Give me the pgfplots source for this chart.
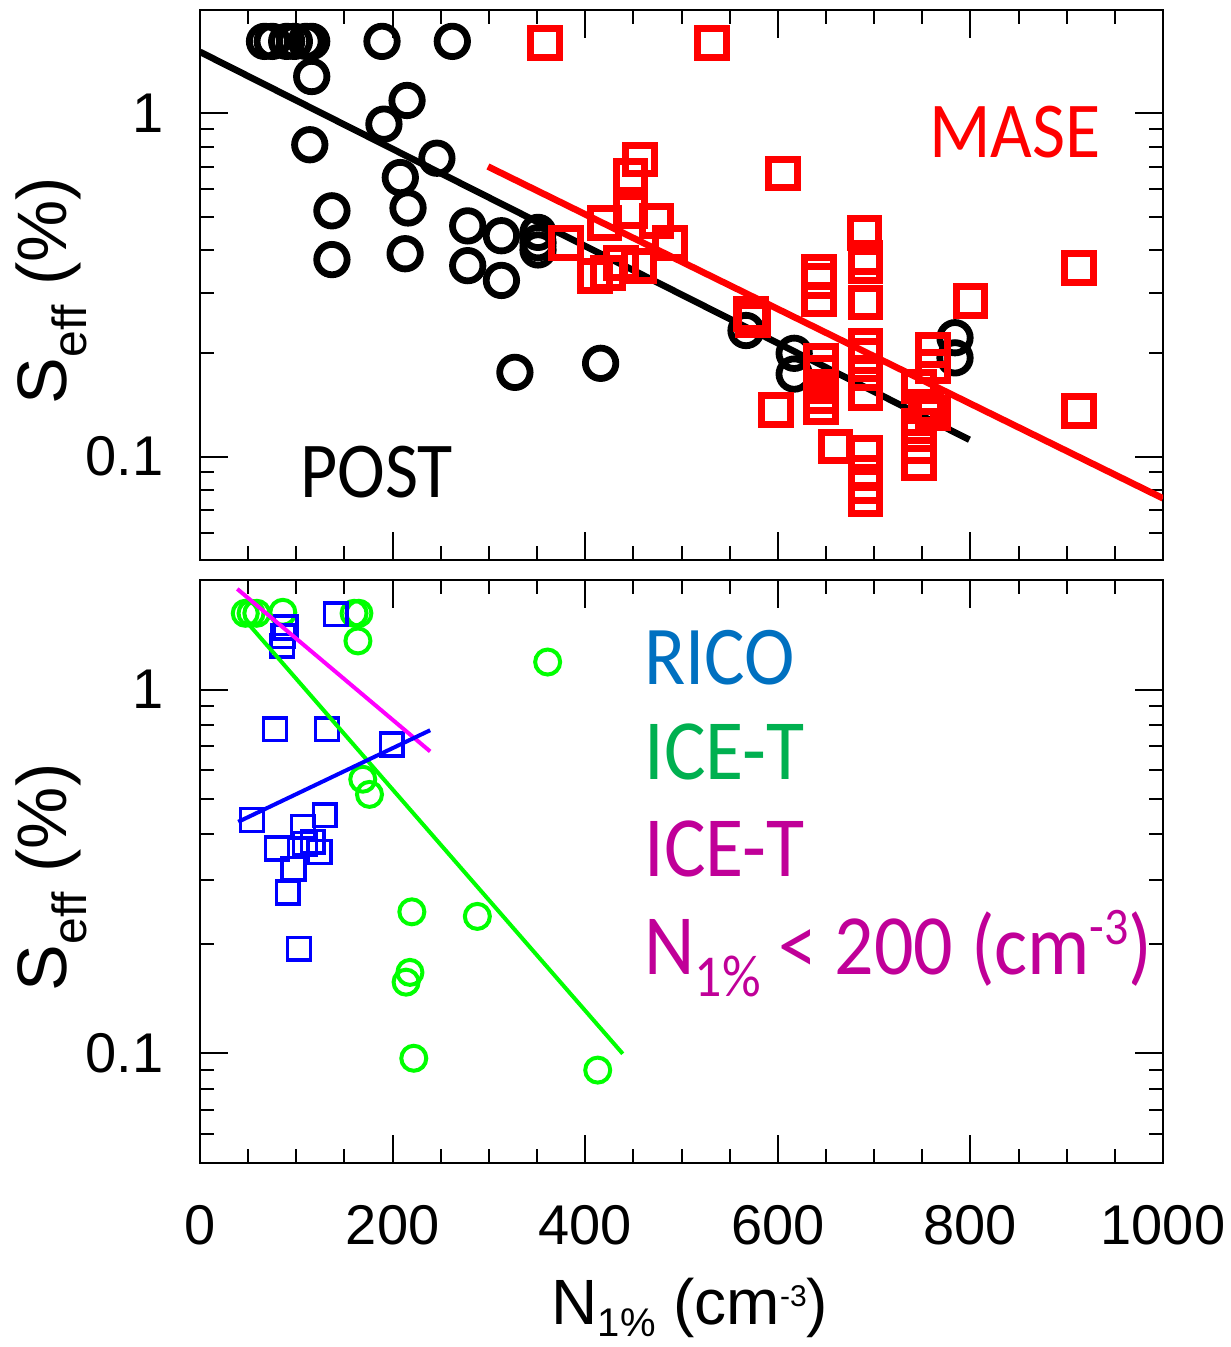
\documentclass[border=0pt]{standalone}
\usepackage{fontspec}
\setmainfont{Liberation Sans}
\newfontfamily\calibri{Carlito}
\usepackage{pgfplots}
\pgfplotsset{compat=1.18}

\definecolor{ricoblue}{HTML}{0070C0}
\definecolor{icegreen}{HTML}{00B050}
\definecolor{icemag}{HTML}{C00098}
\definecolor{mkgreen}{HTML}{00FF00}
\definecolor{mkblue}{HTML}{0000FF}
\definecolor{mkmag}{HTML}{FF00FF}
\definecolor{mkred}{HTML}{FF0000}

\pgfplotsset{
  panel/.style={
    scale only axis, width=481.5pt,
    xmin=0, xmax=1000, ymin=0.05, ymax=2,
    xtick={0,200,400,600,800,1000}, minor x tick num=3,
    ytick={0.1,1}, yticklabels={0.1,1},
    minor ytick={0.06,0.07,0.08,0.09,0.2,0.3,0.4,0.5,0.6,0.7,0.8,0.9},
    tick align=inside,
    major tick length=14pt, minor tick length=7pt,
    every tick/.style={black, line width=1pt},
    axis line style={line width=1pt},
    tick label style={font=\fontsize{28}{28}\selectfont},
    yticklabel style={inner sep=0pt, anchor=east, xshift=-18pt},
    xticklabel style={inner sep=0pt, anchor=north, yshift=-21pt},
    label style={font=\fontsize{32}{32}\selectfont},
    ylabel style={font=\fontsize{35}{35}\selectfont, at={(axis description cs:-0.139,0.49)}, anchor=base},
    clip mode=individual,
  },
}
\tikzset{note/.style={anchor=base west, inner sep=0pt, font=\calibri\fontsize{#1}{#1}\selectfont}}
\newcommand{\seff}{S\raisebox{-10pt}{\fontsize{24}{24}\selectfont eff} (\%)}
% Calibri-style captions are set slightly taller than wide
\newcommand{\tall}[1]{\scalebox{1}[1.1]{#1}}

\begin{document}
\begin{tikzpicture}
\path[use as bounding box] (0,0) rectangle (615pt,673.5pt);

% ---------------- upper panel: POST and MASE ----------------
\begin{semilogyaxis}[panel, at={(100pt,393.5pt)}, anchor=south west, height=275pt,
  xticklabels={}, ylabel={\seff}]
\addplot[only marks, black, mark=o, mark size=7.6pt, mark options={line width=3.4pt}] coordinates {
 (67,1.62) (75,1.62) (90,1.62) (98,1.62) (110,1.62) (116,1.62) (189,1.62) (262,1.62)
 (116,1.28) (215,1.09) (191,0.93) (114,0.81) (246,0.74) (208,0.65) (216,0.53)
 (137,0.52) (278,0.47) (313,0.44) (351,0.45) (351,0.42) (351,0.40) (137,0.375)
 (213,0.39) (278,0.36) (313,0.326) (327,0.176) (416,0.187) (567,0.233)
 (617,0.20) (617,0.174) (784,0.222) (784,0.194)
};
\addplot[black, line width=3.3pt] coordinates {(0,1.51) (799,0.112)};
\addplot[only marks, mkred, mark=square, mark size=7.2pt, mark options={line width=3.5pt}] coordinates {
 (358,1.60) (532,1.60)
 (457,0.734) (447,0.656) (447,0.52) (420,0.48) (474,0.485) (380,0.42) (488,0.42)
 (410,0.336) (424,0.343) (437,0.367) (456,0.359)
 (605,0.668) (572,0.26) (574,0.25)
 (690,0.449) (691,0.38) (691,0.36) (691,0.281)
 (643,0.345) (643,0.325) (643,0.287) (800,0.284)
 (645,0.19) (645,0.175) (645,0.16) (645,0.15) (645,0.139)
 (598,0.137) (660,0.107)
 (691,0.21) (691,0.196) (691,0.175) (691,0.153)
 (691,0.1025) (691,0.0896) (691,0.082) (691,0.075)
 (761,0.205) (761,0.183) (747,0.16) (754,0.14) (761,0.134)
 (747,0.1226) (747,0.107) (747,0.096)
 (913,0.355) (913,0.136)
};
\addplot[mkred, line width=3.3pt] coordinates {(299,0.70) (1000,0.0756)};
\node[note=36] at (rel axis cs:0.1038,0.1145) {\tall{POST}};
\node[note=36, text=mkred] at (rel axis cs:0.757,0.731) {\tall{MASE}};
\end{semilogyaxis}

% ---------------- lower panel: RICO and ICE-T ----------------
\begin{semilogyaxis}[panel, at={(100pt,92pt)}, anchor=south west, height=291.5pt,
  xticklabels={0,200,400,600,800,1000},
  ylabel={\seff},
  xlabel={N\raisebox{-6pt}{\fontsize{20}{20}\selectfont 1\%} (cm\raisebox{9pt}{\fontsize{15}{15}\selectfont -3})},
  xlabel style={at={(axis description cs:0.5088,-0.277)}, anchor=base}]
\addplot[only marks, mkgreen, mark=o, mark size=6.25pt, mark options={line width=2pt}] coordinates {
 (47,1.62) (53,1.62) (59,1.62) (86,1.63) (160,1.62) (165,1.62) (164,1.36) (361,1.19)
 (169,0.567) (176,0.515) (220,0.245) (288,0.238) (218,0.167) (214,0.157)
 (222,0.097) (413,0.090)
};
\addplot[only marks, mkblue, mark=square, mark size=5.7pt, mark options={line width=1.7pt}] coordinates {
 (141,1.61) (89,1.48) (86,1.40) (85,1.32) (78,0.778) (132,0.778) (199,0.706)
 (54,0.4375) (129.5,0.451) (107,0.42) (80,0.366) (117,0.382) (124,0.358)
 (109,0.377) (97,0.322) (91,0.277) (103,0.194)
};
\addplot[mkgreen, line width=2pt] coordinates {(47,1.55) (439,0.0998)};
\addplot[mkmag, line width=2pt] coordinates {(38.7,1.89) (239,0.676)};
\addplot[mkblue, line width=2pt] coordinates {(39.7,0.433) (239,0.773)};
\node[note=38, text=ricoblue] at (rel axis cs:0.461,0.820) {\tall{RICO}};
\node[note=39, text=icegreen] at (rel axis cs:0.461,0.657) {\tall{ICE-T}};
\node[note=39, text=icemag] at (rel axis cs:0.461,0.4906) {\tall{ICE-T}};
\node[note=39, text=icemag] at (rel axis cs:0.461,0.3225)
  {\tall{N\raisebox{-10pt}{\fontsize{27}{27}\selectfont 1\%} < 200 (cm\raisebox{14pt}{\fontsize{24}{24}\selectfont -3})}};
\end{semilogyaxis}
\end{tikzpicture}
\end{document}
